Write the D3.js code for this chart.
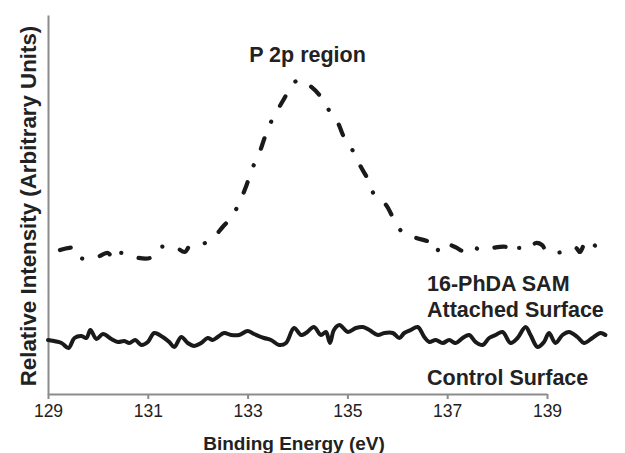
<!DOCTYPE html>
<html><head><meta charset="utf-8">
<script src="https://cdn.jsdelivr.net/npm/d3@7"></script>
<style>body{margin:0;background:#fff}svg{display:block}</style>
</head><body>
<svg id="c" width="625" height="453"></svg>
<script>
// Binding energy (eV) and intensity (arbitrary units) for the 16-PhDA SAM attached surface
const samEnergy = [129.24,129.56,129.66,129.94,130.20,130.32,130.44,130.72,131.04,131.20,131.54,131.74,131.84,131.96,132.26,132.50,132.68,132.84,132.98,133.08,133.22,133.34,133.44,133.60,133.74,133.88,134.04,134.20,134.44,134.60,134.80,134.94,135.10,135.26,135.44,135.54,135.76,135.94,136.10,136.38,136.68,136.78,136.90,137.16,137.40,137.54,137.68,137.90,138.18,138.30,138.44,138.58,138.78,138.90,139.00,139.32,139.58,139.66,139.80,140.04];
const samIntensity = [144,146,136,136,141,134,141,137,136,146,147,142,148,148,154,167,177,192,209,224,239,256,269,284,296,309,314,310,299,286,272,256,244,228,212,199,190,174,162,156,151,142,151,147,141,146,144,146,147,141,146,144,151,149,142,142,146,142,154,144];
// Control surface
const ctlEnergy = [129.00,129.27,129.41,129.53,129.67,129.77,129.85,129.97,130.10,130.27,130.40,130.53,130.63,130.75,130.87,131.00,131.13,131.30,131.43,131.53,131.67,131.80,131.93,132.07,132.20,132.30,132.40,132.53,132.67,132.83,133.00,133.13,133.33,133.47,133.63,133.77,133.93,134.07,134.17,134.33,134.47,134.57,134.65,134.73,134.84,135.01,135.17,135.31,135.44,135.61,135.74,135.91,136.04,136.14,136.27,136.41,136.54,136.64,136.77,136.91,137.04,137.17,137.31,137.44,137.57,137.71,137.84,137.97,138.11,138.27,138.41,138.57,138.67,138.81,138.94,139.04,139.17,139.31,139.44,139.61,139.74,139.91,140.07,140.17];
const ctlIntensity = [54,51,46,56,58,56,64,55,60,55,52,53,51,54,49,52,61,57,52,47,57,51,48,51,56,54,57,61,59,59,63,60,56,54,49,51,66,59,61,67,59,62,51,64,69,62,66,67,64,59,61,61,56,61,64,67,57,52,54,51,54,51,56,59,52,49,56,59,62,51,56,67,59,47,52,61,51,59,62,57,51,56,61,59];
const xTicks = [129,131,133,135,137,139];

const svg = d3.select("#c");
const font = "Liberation Sans, Arial, sans-serif";
const x = d3.scaleLinear().domain([129,139]).range([48,547]);
const y = d3.scaleLinear().domain([0,379]).range([394,15]);

// axes
const xAxis = svg.append("g").attr("transform","translate(0,394)")
  .call(d3.axisBottom(x).tickValues(xTicks).tickSize(5).tickSizeOuter(0).tickFormat(d3.format("d")));
xAxis.select(".domain").attr("stroke","#8c8c8c").attr("stroke-width",2);
xAxis.selectAll(".tick line").attr("stroke","#8c8c8c").attr("stroke-width",2);
xAxis.selectAll(".tick text").attr("font-family",font).attr("font-size",17.5).attr("fill","#222")
  .attr("y",0).attr("dy",0).attr("transform","translate(0,23)");

const yAxis = svg.append("g").attr("transform","translate(48,0)")
  .call(d3.axisLeft(y).tickValues([]).tickSize(0).tickSizeOuter(0));
yAxis.select(".domain").attr("stroke","#8c8c8c").attr("stroke-width",2);

const line = d3.line().x(d=>x(d[0])).y(d=>y(d[1])).curve(d3.curveCatmullRom.alpha(0.5));

svg.append("path").datum(ctlEnergy.map((e,i)=>[e,ctlIntensity[i]]))
  .attr("d",line).attr("fill","none").attr("stroke","#1a1a1a").attr("stroke-width",4)
  .attr("stroke-linejoin","round").attr("stroke-linecap","round");

svg.append("path").datum(samEnergy.map((e,i)=>[e,samIntensity[i]]))
  .attr("d",line).attr("fill","none").attr("stroke","#1a1a1a").attr("stroke-width",4.2)
  .attr("stroke-linecap","round").attr("stroke-linejoin","round")
  .attr("stroke-dasharray","11,18,0.1,18");

// text
const t = (txt,xx,yy,anchor,size,weight)=>svg.append("text").text(txt).attr("x",xx).attr("y",yy)
  .attr("text-anchor",anchor).attr("font-family",font).attr("font-size",size).attr("font-weight",weight).attr("fill","#222");
t("P 2p region",307.5,62,"middle",21.5,"bold");
t("16-PhDA SAM",427,291,"start",21.5,"bold");
t("Attached Surface",427,317,"start",21.5,"bold");
t("Control Surface",427,385,"start",21.5,"bold");
t("Binding Energy (eV)",294,450,"middle",19,"bold");
svg.append("text").text("Relative Intensity (Arbitrary Units)")
  .attr("transform","translate(36,206) rotate(-90)").attr("text-anchor","middle")
  .attr("font-family",font).attr("font-size",22.3).attr("font-weight","bold").attr("fill","#222");
</script>
</body></html>
